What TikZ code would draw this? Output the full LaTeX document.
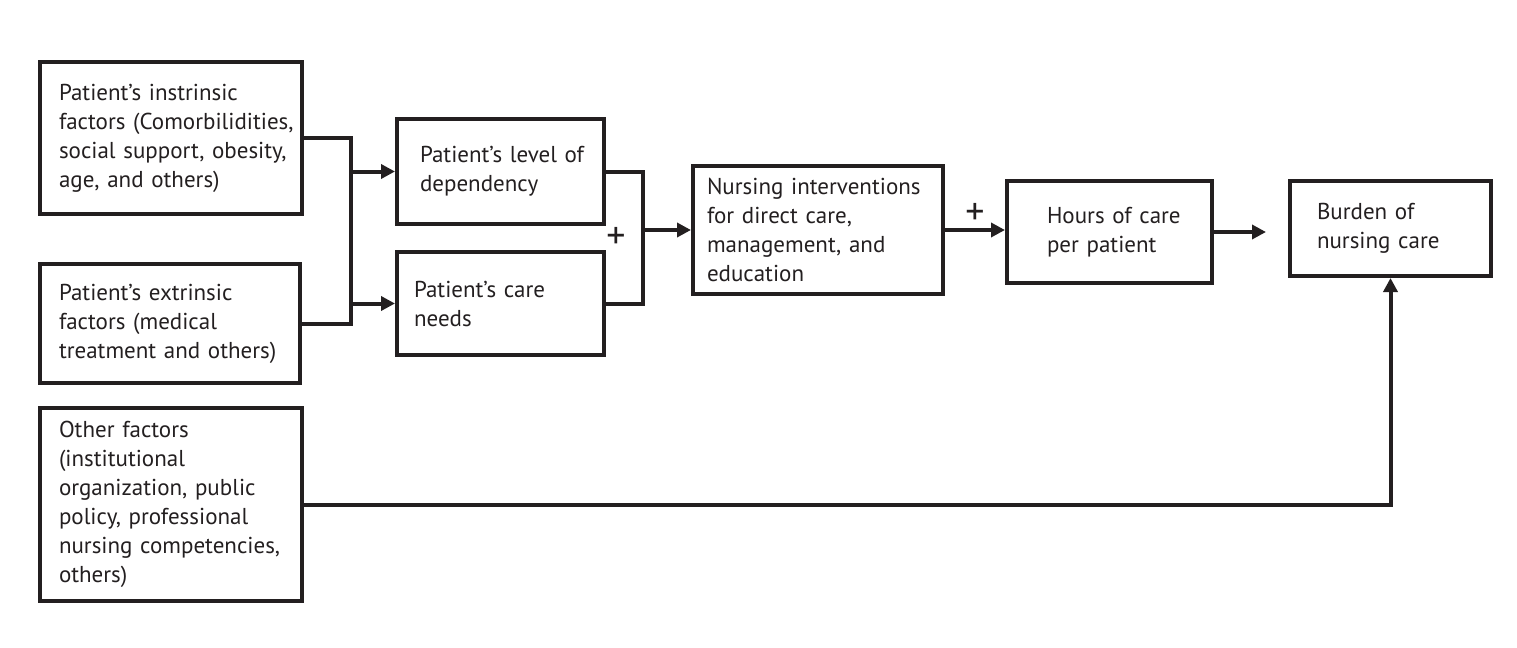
\documentclass[tikz,border=0pt]{standalone}
\usepackage{fontspec}
\setmainfont{PT Sans}
\usetikzlibrary{arrows.meta}
\definecolor{ink}{RGB}{35,31,32}
\tikzset{
  bx/.style 2 args={draw=ink, line width=2pt, anchor=north west, inner xsep=#1, inner ysep=0pt,
    text width=#2, align=left, font=\fontsize{11.5}{14.5}\selectfont, text=ink},
  ln/.style={draw=ink, line width=2pt},
  arr/.style={ln, -{Triangle[length=7pt,width=7pt]}},
  plus/.style={font=\fontsize{19}{20}\selectfont, text=ink, inner sep=0pt}
}
\begin{document}
\begin{tikzpicture}[x=0.5pt,y=-0.5pt]
\useasboundingbox (0,0) rectangle (1517,648);
% boxes
\node[bx={9.5pt}{112pt}, minimum height=76pt] (b1) at (38,60)
  {\mbox{Patient’s instrinsic}\\\mbox{factors (Comorbilidities,}\\\mbox{social support, obesity,}\\\mbox{age, and others)}};
\node[bx={9.5pt}{111pt}, minimum height=59.5pt] (b2) at (38,262)
  {\mbox{Patient’s extrinsic}\\\mbox{factors (medical}\\\mbox{treatment and others)}};
\node[bx={9.5pt}{112pt}, minimum height=96.5pt] (b3) at (38,406)
  {\mbox{Other factors}\\\mbox{(institutional}\\\mbox{organization, public}\\\mbox{policy, professional}\\\mbox{nursing competencies,}\\\mbox{others)}};
\node[bx={11.5pt}{80.5pt}, minimum height=52.5pt] (b4) at (395,117)
  {\mbox{Patient’s level of}\\\mbox{dependency}};
\node[bx={8.5pt}{86.5pt}, minimum height=51.5pt] (b5) at (395,250)
  {\mbox{Patient’s care}\\\mbox{needs}};
\node[bx={7pt}{111pt}, minimum height=64pt] (b6) at (691,164)
  {\mbox{Nursing interventions}\\\mbox{for direct care,}\\\mbox{management, and}\\\mbox{education}};
\node[bx={20pt}{62.5pt}, minimum height=51pt] (b7) at (1005,179)
  {\mbox{Hours of care}\\\mbox{per patient}};
\node[bx={13.5pt}{73.5pt}, minimum height=47.5pt] (b8) at (1288,179)
  {\mbox{Burden of}\\\mbox{nursing care}};
% junction coordinates
\coordinate (m1) at (351,0);
\coordinate (m2) at (643,0);
% connectors
\draw[ln] (b1.east) -| (m1 |- b2.east) -- (b2.east);
\draw[arr] (m1 |- b4.west) -- (b4.west);
\draw[arr] (m1 |- b5.west) -- (b5.west);
\draw[ln] (b4.east) -| (m2 |- b5.east) -- (b5.east);
\draw[arr] (m2 |- b6.west) -- (b6.west);
\draw[arr] (b6.east) -- (b7.west |- b6.east);
\draw[arr, shorten >=11pt] (b7.east) -- (b8.west |- b7.east);
\draw[arr] (b3.east) -| (b8.south);
% plus signs
\node[plus] (p1) at (616,238) {+};
\node[plus] (p2) at (975,214) {+};
\end{tikzpicture}
\end{document}
